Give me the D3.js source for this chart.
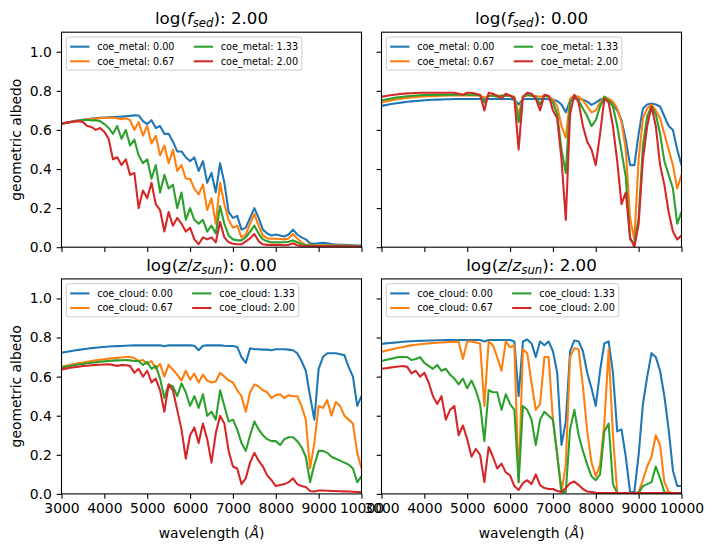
<!DOCTYPE html>
<html><head><meta charset="utf-8">
<script src="https://cdn.jsdelivr.net/npm/d3@7"></script>
<style>body{margin:0;background:#fff}svg{display:block}text{font-family:"DejaVu Sans",sans-serif}</style>
</head><body><svg id="c" width="713" height="553"></svg>
<script>
// wavelength grid (Å)
const wavelengths = d3.range(3000, 10001, 100);
const xTicks = [3000,4000,5000,6000,7000,8000,9000,10000];
const yTicks = [0.0,0.2,0.4,0.6,0.8,1.0];
const legendValues = ["0.00","0.67","1.33","2.00"];
const colors = ["#1f77b4","#ff7f0e","#2ca02c","#d62728"];

// top-left: log(f_sed)=2.00, varying coe_metal
const fsed2_metal000 = [.633,.637,.641,.645,.649,.652,.655,.658,.660,.662,
 .664,.665,.666,.667,.668,.670,.672,.675,.674,.645,
 .630,.650,.610,.620,.580,.580,.540,.490,.490,.460,
 .440,.460,.390,.440,.330,.380,.280,.430,.330,.180,
 .150,.160,.090,.100,.150,.200,.150,.090,.070,.060,
 .065,.060,.055,.065,.090,.065,.050,.040,.020,.018,
 .020,.022,.020,.016,.014,.012,.012,.011,.010,.009,
 .008];
const fsed2_metal067 = [.632,.636,.640,.644,.648,.651,.654,.656,.658,.660,
 .661,.662,.662,.660,.655,.660,.650,.600,.640,.570,
 .620,.530,.570,.470,.520,.430,.500,.390,.420,.350,
 .350,.300,.270,.320,.190,.250,.120,.330,.220,.140,
 .100,.110,.050,.065,.120,.170,.110,.060,.045,.043,
 .043,.042,.040,.045,.068,.045,.025,.012,.012,.010,
 .010,.010,.010,.009,.008,.008,.008,.007,.007,.006,
 .006];
const fsed2_metal133 = [.632,.636,.640,.644,.647,.650,.652,.648,.650,.645,
 .630,.610,.580,.620,.555,.600,.520,.550,.470,.430,
 .450,.350,.420,.280,.370,.300,.320,.200,.280,.140,
 .200,.140,.120,.140,.080,.110,.070,.210,.120,.060,
 .040,.035,.035,.050,.080,.110,.070,.040,.030,.025,
 .025,.025,.025,.028,.035,.025,.015,.010,.008,.008,
 .007,.007,.007,.006,.006,.006,.006,.005,.005,.005,
 .005];
const fsed2_metal200 = [.632,.636,.640,.643,.645,.640,.620,.615,.600,.610,
 .590,.555,.450,.460,.420,.450,.370,.380,.200,.290,
 .250,.330,.220,.190,.080,.180,.110,.150,.120,.080,
 .100,.040,.015,.050,.040,.050,.025,.130,.050,.025,
 .018,.015,.015,.030,.045,.068,.030,.015,.012,.012,
 .012,.012,.010,.012,.020,.010,.006,.005,.005,.005,
 .005,.005,.005,.005,.005,.005,.004,.004,.004,.004,
 .004];

// top-right: log(f_sed)=0.00, varying coe_metal
const fsed0_metal000 = [.723,.727,.731,.735,.738,.741,.744,.746,.748,.750,
 .752,.753,.754,.755,.756,.757,.757,.758,.758,.758,
 .758,.758,.758,.758,.757,.758,.758,.758,.758,.758,
 .758,.755,.730,.757,.758,.758,.758,.758,.758,.757,
 .755,.748,.730,.690,.750,.760,.760,.755,.745,.728,
 .740,.755,.760,.755,.730,.700,.650,.550,.420,.420,
 .580,.710,.730,.735,.730,.720,.670,.620,.600,.500,
 .420];
const fsed0_metal067 = [.740,.745,.750,.754,.758,.761,.764,.766,.768,.770,
 .771,.772,.773,.774,.775,.775,.776,.776,.776,.776,
 .776,.776,.776,.776,.765,.775,.776,.774,.776,.775,
 .776,.770,.680,.770,.776,.776,.774,.770,.774,.772,
 .755,.720,.620,.560,.760,.775,.770,.750,.720,.690,
 .700,.740,.770,.760,.745,.710,.640,.500,.150,.040,
 .450,.660,.710,.730,.700,.660,.580,.500,.420,.300,
 .370];
const fsed0_metal133 = [.752,.756,.760,.764,.767,.770,.772,.774,.776,.777,
 .778,.779,.779,.780,.780,.780,.780,.780,.780,.780,
 .780,.780,.779,.778,.740,.775,.775,.770,.775,.775,
 .775,.765,.640,.770,.780,.775,.770,.730,.775,.770,
 .740,.680,.500,.380,.740,.775,.750,.710,.670,.620,
 .650,.720,.770,.750,.720,.620,.490,.360,.040,.020,
 .150,.520,.670,.720,.680,.580,.440,.370,.300,.120,
 .180];
const fsed0_metal200 = [.770,.774,.777,.780,.783,.785,.787,.788,.789,.790,
 .790,.790,.790,.790,.790,.790,.790,.790,.785,.780,
 .790,.790,.785,.780,.700,.790,.785,.775,.760,.785,
 .775,.760,.500,.770,.790,.785,.760,.700,.780,.775,
 .700,.660,.450,.140,.680,.780,.740,.620,.540,.500,
 .420,.580,.760,.740,.620,.440,.220,.280,.050,.000,
 .120,.450,.620,.720,.620,.420,.320,.180,.080,.040,
 .060];

// bottom-left: log(z/z_sun)=0.00, varying coe_cloud
const zsun0_cloud000 = [.722,.726,.730,.734,.737,.740,.743,.746,.748,.750,
 .752,.754,.755,.756,.757,.758,.759,.760,.760,.760,
 .760,.760,.760,.760,.755,.760,.760,.760,.760,.760,
 .760,.758,.735,.758,.760,.760,.760,.760,.758,.757,
 .757,.752,.700,.670,.745,.740,.740,.738,.738,.735,
 .740,.740,.740,.738,.735,.720,.680,.630,.500,.380,
 .640,.700,.720,.720,.720,.715,.710,.650,.600,.450,
 .500];
const zsun0_cloud067 = [.650,.655,.660,.664,.668,.672,.676,.680,.683,.686,
 .689,.692,.694,.696,.698,.700,.700,.695,.680,.685,
 .665,.680,.640,.665,.600,.660,.635,.610,.580,.630,
 .585,.615,.570,.610,.580,.570,.575,.620,.600,.580,
 .570,.530,.500,.420,.520,.560,.550,.530,.520,.490,
 .505,.510,.490,.505,.500,.500,.450,.380,.130,.260,
 .450,.440,.480,.400,.470,.450,.400,.380,.360,.210,
 .130];
const zsun0_cloud133 = [.645,.650,.654,.658,.662,.665,.668,.671,.674,.676,
 .678,.680,.682,.683,.684,.685,.683,.680,.680,.660,
 .675,.640,.655,.590,.490,.560,.550,.500,.565,.520,
 .450,.500,.440,.510,.400,.420,.380,.530,.450,.370,
 .380,.330,.260,.220,.300,.370,.330,.300,.280,.270,
 .270,.250,.280,.290,.290,.270,.240,.190,.060,.150,
 .220,.220,.210,.190,.180,.170,.160,.150,.130,.060,
 .090];
const zsun0_cloud200 = [.637,.641,.645,.648,.651,.654,.656,.658,.660,.661,
 .662,.663,.660,.655,.660,.658,.655,.620,.640,.600,
 .630,.570,.590,.530,.420,.560,.530,.430,.330,.180,
 .300,.340,.260,.360,.280,.160,.310,.400,.360,.220,
 .140,.130,.050,.080,.160,.210,.170,.140,.095,.070,
 .040,.045,.050,.060,.080,.050,.040,.035,.015,.012,
 .017,.017,.016,.015,.015,.014,.013,.012,.011,.010,
 .010];

// bottom-right: log(z/z_sun)=2.00, varying coe_cloud
const zsun2_cloud000 = [.767,.770,.772,.774,.776,.778,.780,.781,.782,.783,
 .784,.785,.785,.786,.786,.787,.787,.787,.787,.787,
 .787,.787,.787,.787,.780,.787,.787,.787,.787,.787,
 .787,.780,.500,.780,.790,.770,.700,.780,.760,.780,
 .730,.620,.250,.370,.730,.785,.780,.730,.620,.540,
 .450,.630,.770,.780,.620,.320,.330,.190,.010,.010,
 .200,.460,.600,.720,.700,.630,.500,.330,.120,.040,
 .040];
const zsun2_cloud067 = [.727,.733,.738,.743,.748,.752,.756,.760,.763,.766,
 .768,.770,.772,.773,.775,.776,.777,.778,.778,.690,
 .780,.780,.775,.770,.450,.780,.760,.700,.630,.780,
 .750,.760,.060,.740,.720,.570,.430,.460,.700,.700,
 .380,.200,.010,.150,.700,.745,.740,.550,.320,.160,
 .090,.150,.360,.740,.300,.005,.004,.004,.004,.004,
 .010,.070,.140,.190,.300,.250,.060,.010,.005,.005,
 .005];
const zsun2_cloud133 = [.680,.685,.690,.695,.700,.700,.700,.685,.690,.700,
 .670,.655,.640,.660,.630,.640,.610,.590,.560,.590,
 .540,.580,.530,.460,.270,.530,.520,.520,.430,.510,
 .460,.430,.060,.450,.430,.380,.250,.380,.420,.400,
 .380,.200,.010,.010,.330,.430,.300,.220,.150,.090,
 .070,.100,.320,.360,.050,.004,.004,.004,.004,.004,
 .004,.040,.050,.060,.140,.080,.010,.004,.004,.004,
 .004];
const zsun2_cloud200 = [.640,.643,.646,.649,.652,.654,.650,.617,.630,.600,
 .620,.570,.500,.460,.500,.380,.430,.450,.300,.350,
 .280,.190,.230,.200,.060,.240,.190,.130,.155,.110,
 .095,.040,.020,.055,.070,.050,.100,.045,.030,.025,
 .025,.015,.010,.030,.055,.063,.045,.025,.012,.010,
 .006,.005,.005,.005,.005,.005,.005,.005,.005,.005,
 .005,.005,.005,.005,.005,.005,.005,.005,.005,.005,
 .005];

const panels = [
  {row:0,col:0,kind:"fsed",val:"2.00",name:"coe_metal",series:[fsed2_metal000,fsed2_metal067,fsed2_metal133,fsed2_metal200]},
  {row:0,col:1,kind:"fsed",val:"0.00",name:"coe_metal",series:[fsed0_metal000,fsed0_metal067,fsed0_metal133,fsed0_metal200]},
  {row:1,col:0,kind:"z",val:"0.00",name:"coe_cloud",series:[zsun0_cloud000,zsun0_cloud067,zsun0_cloud133,zsun0_cloud200]},
  {row:1,col:1,kind:"z",val:"2.00",name:"coe_cloud",series:[zsun2_cloud000,zsun2_cloud067,zsun2_cloud133,zsun2_cloud200]}
];

const FONT = "DejaVu Sans";
const lefts = [61.5, 381.5], tops = [32.2, 278.9];
const W = 300, H = 215;
const svg = d3.select("#c");
const defs = svg.append("defs");

panels.forEach(p => {
  const x0 = lefts[p.col], y0 = tops[p.row];
  const x = d3.scaleLinear().domain([3000,10000]).range([x0, x0+W]);
  const y = d3.scaleLinear().domain([0,1.1]).range([y0+H, y0]);
  const clipId = `clip${p.row}${p.col}`;
  defs.append("clipPath").attr("id",clipId).append("rect")
    .attr("x",x0).attr("y",y0).attr("width",W).attr("height",H);
  const g = svg.append("g");
  const line = d3.line().x((d,i)=>x(wavelengths[i])).y(d=>y(d));
  const lg = g.append("g").attr("clip-path",`url(#${clipId})`);
  p.series.forEach((s,i)=>{
    lg.append("path").attr("d",line(s)).attr("fill","none")
      .attr("stroke",colors[i]).attr("stroke-width",2.08)
      .attr("stroke-linejoin","round");
  });
  // x axis
  const xa = d3.axisBottom(x).tickValues(xTicks).tickSize(4.86).tickPadding(4.86)
    .tickFormat(p.row===1 ? d3.format("d") : ()=>"");
  const gx = g.append("g").attr("transform",`translate(0,${y0+H})`).call(xa)
    .attr("font-family",FONT).attr("font-size",13.9);
  gx.select(".domain").remove();
  gx.selectAll(".tick line").attr("stroke","#000").attr("stroke-width",1.1);
  gx.selectAll(".tick text").attr("fill","#000");
  // y axis
  const ya = d3.axisLeft(y).tickValues(yTicks).tickSize(4.86).tickPadding(4.86)
    .tickFormat(p.col===0 ? d3.format(".1f") : ()=>"");
  const gy = g.append("g").attr("transform",`translate(${x0},0)`).call(ya)
    .attr("font-family",FONT).attr("font-size",13.9);
  gy.select(".domain").remove();
  gy.selectAll(".tick line").attr("stroke","#000").attr("stroke-width",1.1);
  gy.selectAll(".tick text").attr("fill","#000");
  // spines
  g.append("rect").attr("x",x0).attr("y",y0).attr("width",W).attr("height",H)
    .attr("fill","none").attr("stroke","#000").attr("stroke-width",1.1);

  // legend
  const fs = 9.64;
  const bx = x0 + 4.82, by = y0 + 4.82;
  const lgd = g.append("g");
  const box = lgd.append("rect");
  const rowsY = [y0 + 14.5, y0 + 29.1];
  const hLen = 2*fs, hPad = 0.8*fs, colSp = 2*fs, bPad = 0.4*fs;
  let cx = bx + bPad;
  let maxRight = cx;
  for (let c = 0; c < 2; c++) {
    let colW = 0;
    for (let r = 0; r < 2; r++) {
      const idx = c*2 + r;
      lgd.append("line").attr("x1",cx).attr("x2",cx+hLen)
        .attr("y1",rowsY[r]).attr("y2",rowsY[r])
        .attr("stroke",colors[idx]).attr("stroke-width",2.08);
      const t = lgd.append("text").attr("x",cx+hLen+hPad).attr("y",rowsY[r]+3.4)
        .attr("font-family",FONT).attr("font-size",fs).attr("fill","#000")
        .text(`${p.name}: ${legendValues[idx]}`);
      colW = Math.max(colW, t.node().getComputedTextLength());
    }
    maxRight = cx + hLen + hPad + colW;
    cx = maxRight + colSp;
  }
  box.attr("x",bx).attr("y",by).attr("width",maxRight + bPad - bx).attr("height",33.1)
    .attr("rx",2).attr("fill","#fff").attr("fill-opacity",0.8)
    .attr("stroke","#cccccc").attr("stroke-width",1);

  // title
  const tt = g.append("text").attr("x",x0+W/2).attr("y",y0-8.3)
    .attr("text-anchor","middle").attr("font-family",FONT).attr("font-size",16.7).attr("fill","#000");
  if (p.kind === "fsed") {
    tt.append("tspan").text("log(");
    tt.append("tspan").attr("font-style","italic").text("f");
    tt.append("tspan").attr("font-style","italic").attr("font-size",11.7).attr("dy",3.5).text("sed");
    tt.append("tspan").attr("dy",-3.5).text(`): ${p.val}`);
  } else {
    tt.append("tspan").text("log(");
    tt.append("tspan").attr("font-style","italic").text("z");
    tt.append("tspan").text("/");
    tt.append("tspan").attr("font-style","italic").text("z");
    tt.append("tspan").attr("font-style","italic").attr("font-size",11.7).attr("dy",3.5).text("sun");
    tt.append("tspan").attr("dy",-3.5).text(`): ${p.val}`);
  }

  if (p.row === 1) {
    const xl = g.append("text").attr("x",x0+W/2).attr("y",538)
      .attr("text-anchor","middle").attr("font-family",FONT).attr("font-size",13.9).attr("fill","#000");
    xl.append("tspan").text("wavelength (");
    xl.append("tspan").attr("font-style","italic").text("Å");
    xl.append("tspan").text(")");
  }
  if (p.col === 0) {
    g.append("text").attr("transform",`translate(20.5,${y0+H/2}) rotate(-90)`)
      .attr("text-anchor","middle").attr("font-family",FONT).attr("font-size",13.9).attr("fill","#000")
      .text("geometric albedo");
  }
});
</script></body></html>
